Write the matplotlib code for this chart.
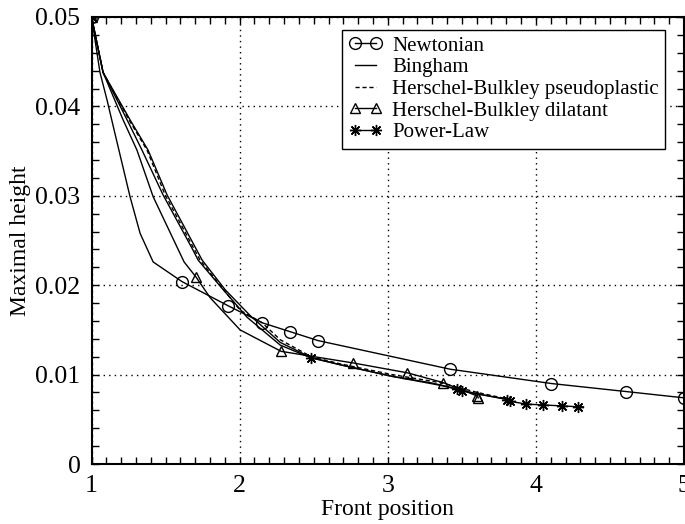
import numpy as np
import matplotlib
matplotlib.use("Agg")
import matplotlib.pyplot as plt
from matplotlib.ticker import MultipleLocator

plt.rcParams["font.family"] = ["Liberation Serif", "DejaVu Serif"]
plt.rcParams["mathtext.fontset"] = "stix"

# Front position vs. maximal height for each rheology
newt_x = [1.0, 1.057, 1.105, 1.152, 1.26, 1.328, 1.416, 1.611, 1.922, 2.152,
          2.341, 2.53, 3.422, 4.105, 4.611, 5.0]
newt_y = [0.05, 0.0438, 0.0407, 0.0374, 0.0299, 0.0258, 0.0226, 0.0204, 0.0177,
          0.0158, 0.0148, 0.0138, 0.0106, 0.0090, 0.0081, 0.0074]
newt_marks = [0, 7, 8, 9, 10, 11, 12, 13, 14, 15]

bing_x = [1.0, 1.078, 1.24, 1.341, 1.483, 1.686, 1.72, 1.868, 2.051, 2.274,
          2.476, 2.679, 3.03, 3.355, 3.611, 3.828]
bing_y = [0.05, 0.0438, 0.0385, 0.0351, 0.0301, 0.0239, 0.0228, 0.0199, 0.0164,
          0.0133, 0.0119, 0.0111, 0.0098, 0.0088, 0.0078, 0.0072]

hbp_x = [1.0, 1.078, 1.253, 1.375, 1.497, 1.733, 1.882, 2.003, 2.152, 2.274,
         2.483, 2.679, 3.03, 3.355, 3.605, 3.828]
hbp_y = [0.05, 0.0438, 0.0385, 0.0351, 0.0301, 0.0228, 0.0197, 0.0172, 0.0158,
         0.0139, 0.0120, 0.0112, 0.0100, 0.0091, 0.0080, 0.0072]

hbd_x = [1.0, 1.078, 1.213, 1.307, 1.416, 1.625, 1.706, 1.801, 2.003, 2.28,
         2.767, 3.132, 3.375, 3.605, 3.611]
hbd_y = [0.05, 0.0438, 0.0385, 0.0351, 0.0299, 0.0226, 0.0209, 0.0186, 0.0150,
         0.0126, 0.0113, 0.0102, 0.0091, 0.0076, 0.0074]
hbd_marks = [0, 6, 9, 10, 11, 12, 13, 14]

pow_x = [1.0, 1.078, 1.26, 1.382, 1.51, 1.747, 1.902, 2.071, 2.274, 2.483,
         2.679, 3.03, 3.287, 3.47, 3.503, 3.807, 3.828, 3.936, 4.051, 4.179,
         4.287, 4.321]
pow_y = [0.05, 0.0438, 0.0385, 0.0351, 0.0301, 0.0228, 0.0195, 0.0166, 0.0136,
         0.0119, 0.0111, 0.0098, 0.0091, 0.0084, 0.0082, 0.0072, 0.0070, 0.0067,
         0.0066, 0.0065, 0.0064, 0.0064]
pow_marks = [0, 9, 13, 14, 15, 16, 17, 18, 19, 20]

y_ticks = [0, 0.01, 0.02, 0.03, 0.04, 0.05]
y_labels = ["0", "0.01", "0.02", "0.03", "0.04", "0.05"]

fig = plt.figure(figsize=(6.85, 5.24), dpi=100)
ax = fig.add_axes([0.1336, 0.1145, 0.8650, 0.8531])

lw = 1.0
ax.plot(newt_x, newt_y, color="black", lw=lw, marker="o", ms=8.5, mfc="none",
        mew=1.0, markevery=newt_marks, label="Newtonian")
ax.plot(bing_x, bing_y, color="black", lw=lw, label="Bingham")
ax.plot(hbp_x, hbp_y, color="black", lw=lw, ls=(0, (3, 2)),
        label="Herschel-Bulkley pseudoplastic")
ax.plot(hbd_x, hbd_y, color="black", lw=lw, marker="^", ms=7.5, mfc="none",
        mew=1.0, markevery=hbd_marks, label="Herschel-Bulkley dilatant")
ax.plot(pow_x, pow_y, color="black", lw=lw, marker=(8, 2, 0), ms=8,
        mew=1.0, markevery=pow_marks, label="Power-Law")

ax.set_xlim(1, 5)
ax.set_ylim(0, 0.05)
ax.xaxis.set_major_locator(MultipleLocator(1))
ax.xaxis.set_minor_locator(MultipleLocator(0.1))
ax.set_yticks(y_ticks)
ax.set_yticklabels(y_labels)
ax.yaxis.set_minor_locator(MultipleLocator(0.002))

ax.tick_params(which="both", direction="in", top=True, right=True,
               length=5, width=1.0, labelsize=18.5, pad=8)
ax.grid(True, which="major", color="black", lw=1.0, ls=(0, (1, 3)))
for s in ax.spines.values():
    s.set_linewidth(1.5)

ax.set_xlabel("Front position", fontsize=17, labelpad=1)
ax.set_ylabel("Maximal height", fontsize=17, labelpad=3)

leg = ax.legend(loc="upper right", bbox_to_anchor=(0.968, 0.971), fontsize=15,
                frameon=True, fancybox=False, edgecolor="black", framealpha=1,
                numpoints=2, handlelength=1.6, handletextpad=0.5,
                labelspacing=0.1, borderpad=0.3, borderaxespad=0)
leg.get_frame().set_linewidth(1.0)

fig.savefig("out.png", dpi=100)
